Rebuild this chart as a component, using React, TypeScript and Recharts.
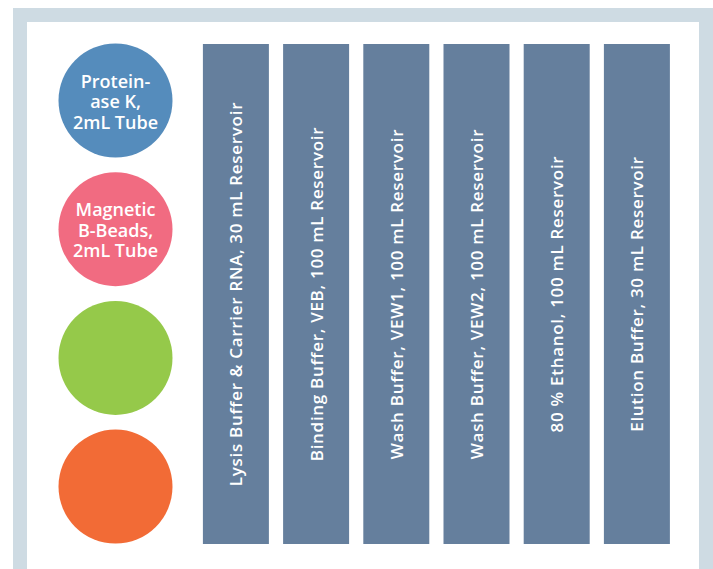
import React from "react";
import { BarChart, Bar, XAxis, YAxis, ScatterChart, Scatter, LabelList } from "recharts";

// reservoirs (columns) and tubes (circles)
const reservoirs = [
  "Lysis Buffer & Carrier RNA, 30 mL Reservoir",
  "Binding Buffer, VEB, 100 mL Reservoir",
  "Wash Buffer, VEW1, 100 mL Reservoir",
  "Wash Buffer, VEW2, 100 mL Reservoir",
  "80 % Ethanol, 100 mL Reservoir",
  "Elution Buffer, 30 mL Reservoir",
];
const reservoirHeight = [1, 1, 1, 1, 1, 1];

const tubeLabels = [
  ["Protein-", "ase K,", "2mL Tube"],
  ["Magnetic", "B-Beads,", "2mL Tube"],
  [],
  [],
];
const tubeColors = ["#558cbc", "#f16b81", "#95c94a", "#f26b36"];
const tubeRow = [0, 1, 2, 3];

const W = 713;
const H = 569;
const FONT = "'Open Sans', 'Noto Sans', sans-serif";

const barData = reservoirs.map((name, i) => ({ name, value: reservoirHeight[i] }));
const tubeData = tubeRow.map((row, i) => ({ x: 0, y: row, lines: tubeLabels[i], color: tubeColors[i] }));

const ReservoirLabel = (props: any) => {
  const { x, y, width, height, value } = props;
  const cx = x + width / 2;
  const cy = y + height / 2;
  return (
    <text
      x={cx}
      y={cy}
      transform={`rotate(-90 ${cx} ${cy})`}
      textAnchor="middle"
      dominantBaseline="central"
      fill="#ffffff"
      fontFamily={FONT}
      fontWeight={600}
      fontSize={17}
      letterSpacing={0.7}
    >
      {value}
    </text>
  );
};

const Tube = (props: any) => {
  const { cx, cy, payload } = props;
  const lines: string[] = payload.lines;
  const lh = 20.5;
  return (
    <g>
      <circle cx={cx} cy={cy} r={57} fill={payload.color} />
      {lines.length > 0 && (
        <text
          x={cx}
          y={cy}
          textAnchor="middle"
          dominantBaseline="central"
          fill="#ffffff"
          fontFamily={FONT}
          fontWeight={600}
          fontSize={18}
        >
          {lines.map((t, i) => (
            <tspan key={i} x={cx} y={cy + (i - (lines.length - 1) / 2) * lh + 0.5}>
              {t}
            </tspan>
          ))}
        </text>
      )}
    </g>
  );
};

export default function App() {
  return (
    <div style={{ position: "absolute", left: 0, top: 0, width: W, height: H, background: "#ffffff", overflow: "hidden" }}>
      {/* light frame */}
      <div
        style={{
          position: "absolute",
          left: 13,
          top: 8,
          width: 700,
          height: 580,
          boxSizing: "border-box",
          border: "14px solid #cedbe3",
          borderBottom: "none",
          background: "#ffffff",
        }}
      />
      <div style={{ position: "absolute", left: 0, top: 0 }}>
        <BarChart
          width={W}
          height={H}
          data={barData}
          margin={{ top: 44, bottom: 25, left: 195.9, right: 35.9 }}
          barSize={66}
        >
          <XAxis dataKey="name" hide />
          <YAxis domain={[0, 1]} hide />
          <Bar dataKey="value" fill="#657f9d" isAnimationActive={false}>
            <LabelList dataKey="name" content={ReservoirLabel} />
          </Bar>
        </BarChart>
      </div>
      <div style={{ position: "absolute", left: 0, top: 0 }}>
        <ScatterChart width={W} height={H} margin={{ top: 36.15, bottom: 18.05, left: 65.5, right: 547.5 }}>
          <XAxis type="number" dataKey="x" domain={[-1, 1]} hide />
          <YAxis type="number" dataKey="y" domain={[-0.5, 3.5]} reversed hide />
          <Scatter data={tubeData} shape={Tube} isAnimationActive={false} />
        </ScatterChart>
      </div>
    </div>
  );
}
